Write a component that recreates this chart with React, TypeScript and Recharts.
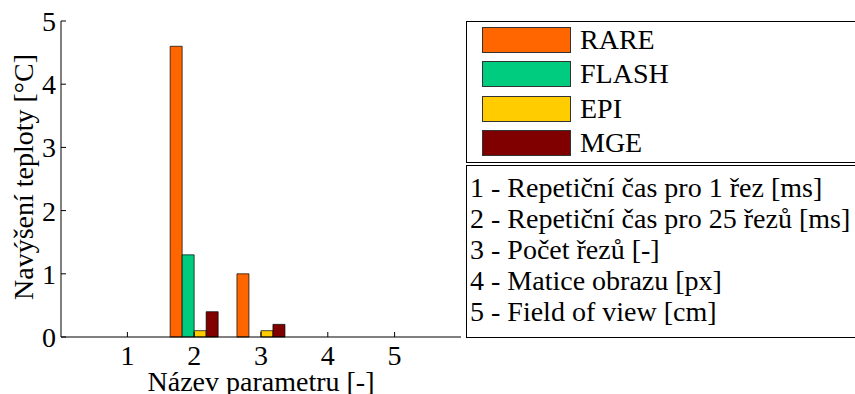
import React from "react";
import { BarChart, Bar, XAxis, YAxis, Label } from "recharts";

const categories = ["1", "2", "3", "4", "5"];
const rare = [0, 4.6, 1.0, 0, 0];
const flash = [0, 1.3, 0, 0, 0];
const epi = [0, 0.1, 0.1, 0, 0];
const mge = [0, 0.4, 0.2, 0, 0];
const yTicks = [0, 1, 2, 3, 4, 5];

const parameterNames = [
  "1 - Repetiční čas pro 1 řez [ms]",
  "2 - Repetiční čas pro 25 řezů [ms]",
  "3 - Počet řezů [-]",
  "4 - Matice obrazu [px]",
  "5 - Field of view [cm]",
];

const series = [
  { key: "RARE", values: rare, color: "#FF6600" },
  { key: "FLASH", values: flash, color: "#00CC80" },
  { key: "EPI", values: epi, color: "#FFCC00" },
  { key: "MGE", values: mge, color: "#800000" },
];

const data = categories.map((c, i) => {
  const row: any = { name: c };
  series.forEach((s) => {
    row[s.key] = s.values[i];
  });
  return row;
});

const FONT = "Liberation Serif, serif";
const tickStyle = { fontSize: 28, fill: "#000", fontFamily: FONT };
const axisStroke = { stroke: "#000", strokeWidth: 1 };

// rotated y-axis title, placed from the axis viewBox
const YLabel = (props: any) => {
  const vb = props.viewBox || { x: 21, y: 21, height: 316 };
  const x = vb.x + 12;
  const y = vb.y + vb.height / 2 - 2;
  return (
    <text
      x={x}
      y={y}
      transform={`rotate(-90 ${x} ${y})`}
      textAnchor="middle"
      fontSize={28}
      fontFamily={FONT}
      fill="#000"
    >
      Navýšení teploty [°C]
    </text>
  );
};

export default function App() {
  return (
    <div
      style={{
        position: "absolute",
        left: 0,
        top: 0,
        width: 855,
        height: 394,
        overflow: "hidden",
        background: "#fff",
        fontFamily: FONT,
      }}
    >
      <BarChart
        width={463}
        height={394}
        data={data}
        margin={{ top: 21, right: 2, bottom: 0, left: 21 }}
        barCategoryGap="14%"
        barGap={0}
      >
        <XAxis
          dataKey="name"
          type="category"
          padding={{ left: 33, right: 33 }}
          height={57}
          tickSize={-5}
          tickMargin={13}
          tick={tickStyle}
          axisLine={axisStroke}
          tickLine={axisStroke}
          interval={0}
        >
          <Label
            value="Název parametru [-]"
            position="insideBottom"
            offset={3}
            style={{ fontSize: 28, fill: "#000", fontFamily: FONT }}
          />
        </XAxis>
        <XAxis
          xAxisId="top"
          dataKey="name"
          type="category"
          orientation="top"
          mirror
          padding={{ left: 33, right: 33 }}
          height={0}
          tick={false}
          tickSize={5}
          axisLine={axisStroke}
          tickLine={axisStroke}
          interval={0}
        />
        <YAxis
          domain={[0, 5]}
          ticks={yTicks}
          width={40}
          tickSize={-5}
          tickMargin={10}
          tick={tickStyle}
          axisLine={axisStroke}
          tickLine={axisStroke}
          label={<YLabel />}
        />
        <YAxis
          yAxisId="right"
          orientation="right"
          mirror
          domain={[0, 5]}
          ticks={yTicks}
          width={0}
          tick={false}
          tickSize={5}
          axisLine={axisStroke}
          tickLine={axisStroke}
        />
        {series.map((s) => (
          <Bar
            key={s.key}
            dataKey={s.key}
            fill={s.color}
            stroke="#000"
            strokeWidth={0.7}
            isAnimationActive={false}
          />
        ))}
      </BarChart>

      {/* series legend */}
      <div
        style={{
          position: "absolute",
          left: 466,
          top: 21,
          width: 400,
          height: 142,
          border: "1px solid #000",
          boxSizing: "border-box",
        }}
      >
        {series.map((s, i) => (
          <div
            key={s.key}
            style={{
              position: "absolute",
              left: 15,
              top: 5 + i * 34.3,
              height: 26,
              display: "flex",
              alignItems: "center",
            }}
          >
            <div
              style={{
                width: 89,
                height: 26,
                background: s.color,
                border: "1px solid #333",
                boxSizing: "border-box",
              }}
            />
            <span
              style={{
                marginLeft: 9,
                fontSize: 28,
                lineHeight: "26px",
                color: "#000",
                whiteSpace: "nowrap",
              }}
            >
              {s.key}
            </span>
          </div>
        ))}
      </div>

      {/* parameter key */}
      <div
        style={{
          position: "absolute",
          left: 466,
          top: 165,
          width: 400,
          height: 173,
          border: "1px solid #000",
          boxSizing: "border-box",
        }}
      >
        {parameterNames.map((t, i) => (
          <div
            key={t}
            style={{
              position: "absolute",
              left: 3,
              top: 6 + i * 31,
              fontSize: 28,
              lineHeight: "31px",
              color: "#000",
              whiteSpace: "nowrap",
            }}
          >
            {t}
          </div>
        ))}
      </div>
    </div>
  );
}
